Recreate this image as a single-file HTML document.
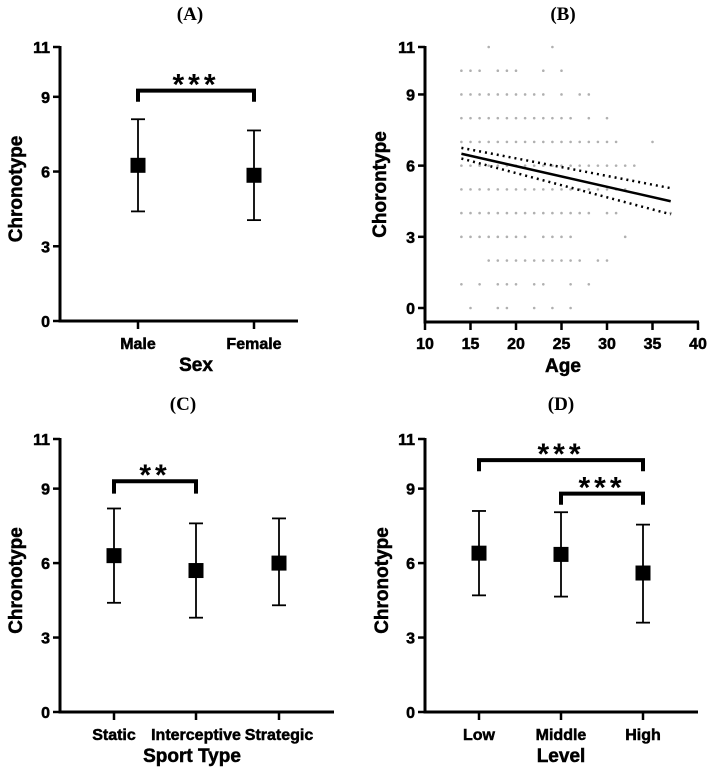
<!DOCTYPE html>
<html><head><meta charset="utf-8"><style>
body{margin:0;background:#fff}
svg{display:block}
</style></head><body>
<svg id="fig" width="708" height="770" viewBox="0 0 708 770" font-family="Liberation Sans, Arial, sans-serif"></svg>
<script>
// Panel A
const catsA=["Male","Female"];const meanA=[6.25,5.85];const loA=[4.4,4.05];const hiA=[8.1,7.65];
// Panel C
const catsC=["Static","Interceptive","Strategic"];const meanC=[6.3,5.7,6.0];const loC=[4.4,3.8,4.3];const hiC=[8.2,7.6,7.8];
// Panel D
const catsD=["Low","Middle","High"];const meanD=[6.4,6.35,5.6];const loD=[4.7,4.65,3.6];const hiD=[8.1,8.05,7.55];
const yTicks=[0,3,6,9,11];
// Panel B scatter rows: chronotype value and ages present
const bVals=[11,10,9,8,7,6,5,4,3,2,1,0];
const bAges=[[17,24],[14,15,16,18,19,20,23,25],[14,15,16,17,18,19,20,21,22,23,25,27,28],
[14,15,16,17,18,19,20,21,22,23,24,25,26,28,30],[14,15,16,17,18,19,20,21,22,23,24,25,26,27,28,29,30,31,35],
[14,15,16,17,18,19,20,21,22,23,24,25,26,27,28,29,30,31,32,33],[14,15,16,17,18,19,20,21,22,23,24,25,26,27,28,29,30,31,32],
[14,15,16,17,18,19,20,21,22,23,24,25,26,27,28,30,31,37],[14,15,16,17,18,19,20,21,23,24,25,26,32],
[17,18,19,20,21,22,23,24,25,26,27,29,30],[14,16,18,19,20,22,23,26,28],[15,18,19,22,24,26]];
const bXTicks=[10,15,20,25,30,35,40];
const fitX=[14,37];const fitY=[6.5,4.5];const ciUp=[6.75,5.05];const ciLo=[6.3,3.95];

const S=document.getElementById('fig');const NS="http://www.w3.org/2000/svg";
function el(t,a,txt){const e=document.createElementNS(NS,t);for(const k in a)e.setAttribute(k,a[k]);if(txt!==undefined)e.textContent=txt;S.appendChild(e);return e;}
function line(x1,y1,x2,y2,w,extra){return el('line',Object.assign({x1,y1,x2,y2,stroke:'#000','stroke-width':w||2},extra||{}));}
const TK={'font-size':16,'font-weight':'bold','stroke':'#000','stroke-width':0.5};
const AT={'font-size':19,'font-weight':'bold','stroke':'#000','stroke-width':0.5};
const PT={'font-size':19,'font-weight':'bold','font-family':'Liberation Serif, serif'};
function txt(x,y,s,anchor,style,extra){return el('text',Object.assign({x,y,'text-anchor':anchor},style,extra||{}),s);}

function catPanel(cfg){
  const {ax,axEnd,y0,y11,xs,cats,mean,lo,hi,title,tx,ty,xlab,ylabX}=cfg;
  const Y=v=>y0+(y11-y0)*v/11;
  const t=txt(tx,ty,title,'middle',PT);
  
  const ya=line(ax,Y(11)-1,ax,y0+1.5,3);
  const xa=line(ax-1.5,y0,axEnd,y0,3);
  yTicks.forEach(v=>{line(ax-7,Y(v),ax,Y(v),2.5);const tl=txt(ax-10,Y(v)+6,String(v),'end',TK);
    });
  cats.forEach((c,i)=>{const x=xs[i];line(x,y0,x,y0+8,2.5);
    const tl=txt(x,y0+28,c,'middle',TK);
    
    line(x,Y(lo[i]),x,Y(hi[i]),1.8);line(x-7,Y(lo[i]),x+7,Y(lo[i]),1.8);line(x-7,Y(hi[i]),x+7,Y(hi[i]),1.8);
    const r=el('rect',{x:x-7.5,y:Y(mean[i])-7.5,width:15,height:15,fill:'#000'});
    });
  const xl=txt(cfg.xlabX,y0+50,xlab,'middle',AT);
  
  const yl=txt(0,0,'Chronotype','middle',AT,{transform:`translate(${ylabX},${(Y(11)+y0)/2+5}) rotate(-90)`});
  
  (cfg.brackets||[]).forEach(b=>{const x1=xs[b[0]],x2=xs[b[1]];
    const p=el('path',{d:`M${x1},${Y(b[3])} V${Y(b[2])} H${x2} V${Y(b[3])}`,fill:'none',stroke:'#000','stroke-width':4});
    
    const s=txt((x1+x2)/2,Y(b[2])+4,b[4],'middle',{'font-size':30,'font-weight':'bold','letter-spacing':4});
    });
}
catPanel({ax:60,axEnd:298,y0:321,y11:47,xs:[138,254],cats:catsA,mean:meanA,lo:loA,hi:hiA,title:'(A)',tx:190,ty:20,xlab:'Sex',xlabX:196,ylabX:22,
  brackets:[[0,1,9.25,8.8,'***']]});
catPanel({ax:60,axEnd:334,y0:712,y11:439,xs:[114,196,279],cats:catsC,mean:meanC,lo:loC,hi:hiC,title:'(C)',tx:183,ty:410,xlab:'Sport Type',xlabX:192,ylabX:22,
  brackets:[[0,1,9.3,8.8,'**']]});
catPanel({ax:425,axEnd:698,y0:712,y11:439,xs:[479,561,643],cats:catsD,mean:meanD,lo:loD,hi:hiD,title:'(D)',tx:561,ty:410,xlab:'Level',xlabX:561,ylabX:388,
  brackets:[[0,2,10.15,9.7,'***'],[1,2,8.8,8.35,'***']]});

// Panel B
(function(){
  const x0=425,x1=698,yb0=308,yb11=47,axY=322;
  const X=a=>x0+(x1-x0)*(a-10)/30, Y=v=>yb0+(yb11-yb0)*v/11;
  const t=txt(563,20,'(B)','middle',PT);
  
  const ya=line(x0,Y(11)-1,x0,axY+1.5,3);
  const xa=line(x0-1.5,axY,x1+1,axY,3);
  yTicks.forEach(v=>{line(x0-7,Y(v),x0,Y(v),2.5);const tl=txt(x0-10,Y(v)+6,String(v),'end',TK);
    });
  bXTicks.forEach(a=>{line(X(a),axY,X(a),axY+8,2.5);const tl=txt(X(a),axY+27,String(a),'middle',TK);
    });
  bVals.forEach((v,i)=>bAges[i].forEach(a=>{const c=el('circle',{cx:X(a),cy:Y(v),r:1.3,fill:'#b0b0b0'});
    }));
  const f=line(X(fitX[0]),Y(fitY[0]),X(fitX[1]),Y(fitY[1]),2.5);
  const u=line(X(fitX[0]),Y(ciUp[0]),X(fitX[1]),Y(ciUp[1]),2.5,{'stroke-dasharray':'2 4'});
  const l=line(X(fitX[0]),Y(ciLo[0]),X(fitX[1]),Y(ciLo[1]),2.5,{'stroke-dasharray':'2 4'});
  const xl=txt(563,372,'Age','middle',AT);
  
  const yl=txt(0,0,'Chorontype','middle',AT,{transform:`translate(386,${(Y(11)+axY)/2}) rotate(-90)`});
  
})();
</script>
</body></html>
